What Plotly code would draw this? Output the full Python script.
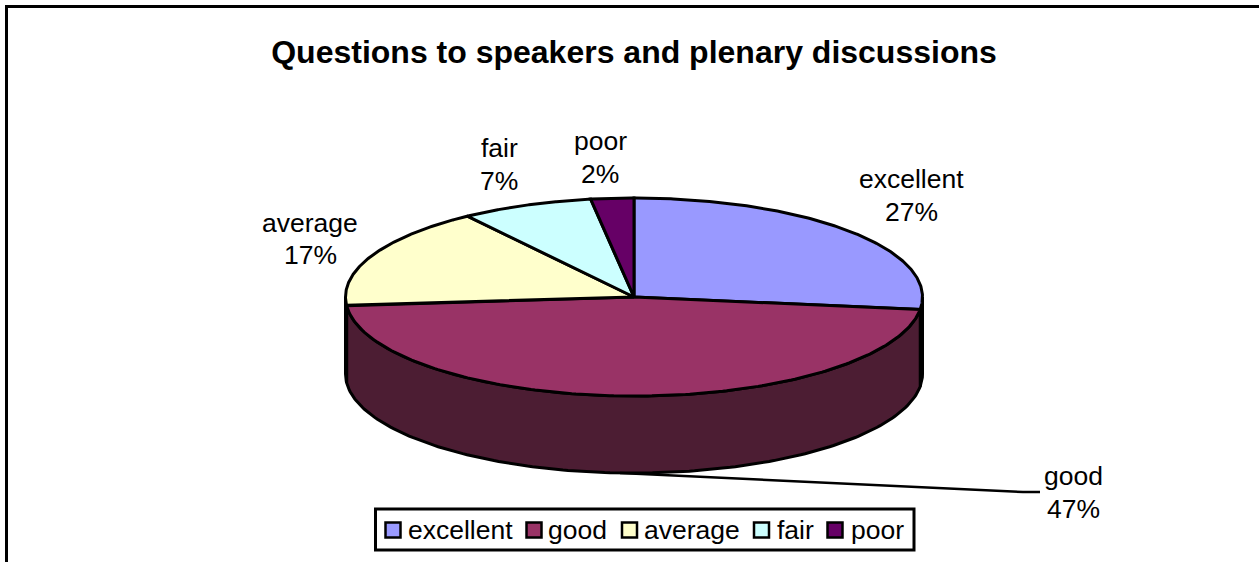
import numpy as np
import plotly.graph_objects as go

categories = ['excellent', 'good', 'average', 'fair', 'poor']
shares = [27.0, 46.6, 16.6, 7.4, 2.4]
top_colors = ['#9999FF', '#993366', '#FFFFCC', '#CCFFFF', '#660066']
wall_colors = ['#4D4D80', '#4C1D33', '#808066', '#668080', '#330033']

FONT = 'Liberation Sans'
CX, CY, RX, RY, DEPTH = 634, 297, 288.5, 99, 77


def ell(t, dy=0):
    t = np.radians(t)
    return CX + RX * np.sin(t), CY + dy - RY * np.cos(t)


fig = go.Figure()

# slice angles run clockwise from 12 o'clock
edges = np.concatenate([[0], np.cumsum(shares)]) / sum(shares) * 360

# side wall, only the part facing the viewer
for i, c in enumerate(categories):
    a, b = max(edges[i], 90), min(edges[i + 1], 270)
    if a >= b:
        continue
    t = np.linspace(a, b, 160)
    x1, y1 = ell(t)
    x2, y2 = ell(t[::-1], DEPTH)
    fig.add_trace(go.Scatter(x=np.r_[x1, x2, x1[0]], y=np.r_[y1, y2, y1[0]], mode='lines',
                             fill='toself', fillcolor=wall_colors[i],
                             line=dict(color='black', width=3), showlegend=False, hoverinfo='skip'))

# top face
for i, c in enumerate(categories):
    t = np.linspace(edges[i], edges[i + 1], 200)
    x, y = ell(t)
    fig.add_trace(go.Scatter(x=np.r_[CX, x, CX], y=np.r_[CY, y, CY], mode='lines',
                             fill='toself', fillcolor=top_colors[i], name=c,
                             line=dict(color='black', width=3), showlegend=False,
                             hovertemplate=c + ' %{text}<extra></extra>',
                             text=[f'{shares[i]:.0f}%'] * (len(t) + 2)))

# data labels, name and percent on separate lines
label_pos = {'excellent': (911, 179, 212), 'good': (1073, 476, 509), 'average': (310, 223, 255),
             'fair': (499, 148, 181), 'poor': (600, 141, 174)}
for c, s in zip(categories, shares):
    lx, y1, y2 = label_pos[c]
    for txt, ly in ((c, y1), (f'{s:.0f}%', y2)):
        fig.add_annotation(x=lx, y=ly, text=txt, showarrow=False, xanchor='center', yanchor='middle',
                           font=dict(family=FONT, size=26.5, color='black'))

# hand made legend, plotly's swatches can't get this small
sw_x = [393, 534, 629.5, 761.5, 835]
txt_x = [408, 548, 644, 777, 851]
fig.add_trace(go.Scatter(x=sw_x, y=[530] * 5, mode='markers', showlegend=False, hoverinfo='skip',
                         marker=dict(symbol='square', size=15, color=top_colors,
                                     line=dict(color='black', width=2.5))))
for c, lx in zip(categories, txt_x):
    fig.add_annotation(x=lx, y=530, text=c, showarrow=False, xanchor='left', yanchor='middle', xshift=-2,
                       font=dict(family=FONT, size=26.5, color='black'))

fig.update_layout(
    width=1259, height=562, autosize=False,
    margin=dict(l=0, r=0, t=0, b=0),
    paper_bgcolor='white', plot_bgcolor='white',
    title=dict(text='<b>Questions to speakers and plenary discussions</b>', x=634 / 1259, y=1 - 52 / 562,
               xanchor='center', yanchor='middle', font=dict(family=FONT, size=32, color='black')),
    xaxis=dict(range=[0, 1259], visible=False, fixedrange=True),
    yaxis=dict(range=[562, 0], visible=False, fixedrange=True),
    shapes=[
        # chart frame, only left and top are in the picture
        dict(type='path', path='M 6.5 562 L 6.5 6.5 L 1259 6.5', line=dict(color='black', width=3)),
        # leader line for good
        dict(type='path', path='M 620 473 L 1023 492 L 1040 492', line=dict(color='black', width=2.5)),
        # legend box
        dict(type='rect', x0=375.5, y0=509, x1=914, y1=550, line=dict(color='black', width=3),
             fillcolor='white', layer='below'),
    ],
)

# page has a default 8px body margin, the frame needs the whole window
fig.write_html('out.html', config={'displayModeBar': False},
               post_script="document.body.style.margin='0';document.body.style.overflow='hidden';")
